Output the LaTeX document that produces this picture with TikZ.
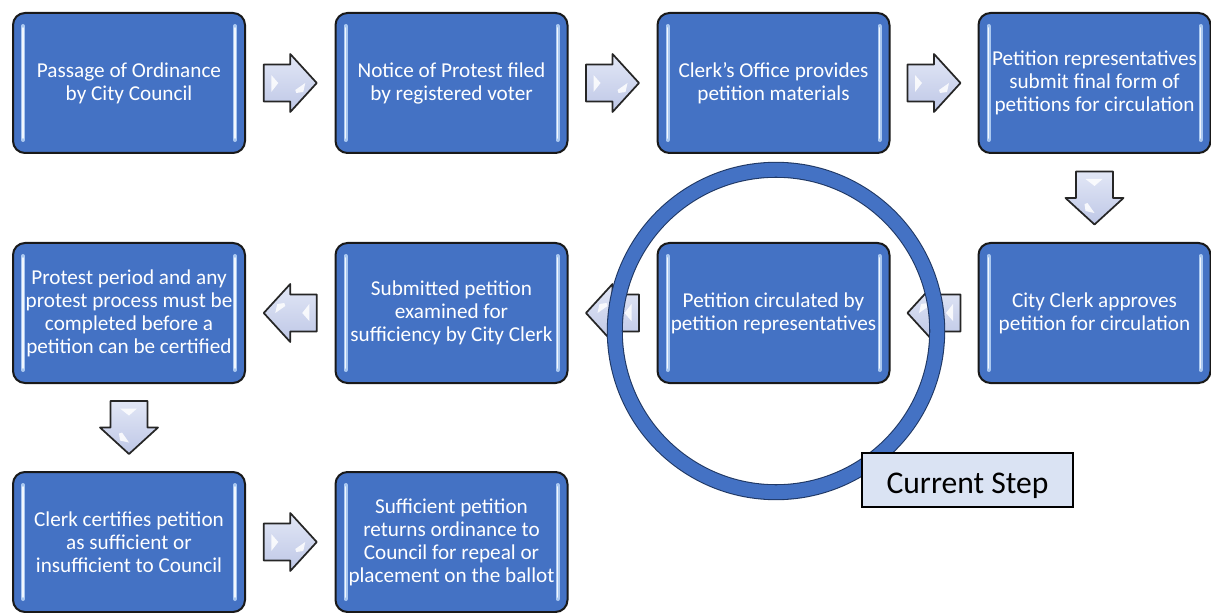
\documentclass[tikz,border=0pt]{standalone}
\usepackage{fontspec}
\setmainfont{Carlito}
\usetikzlibrary{calc}
\definecolor{boxblue}{RGB}{68,114,196}
\definecolor{barblue}{RGB}{170,200,240}
\definecolor{arrowfill}{RGB}{190,199,230}
\definecolor{arrowlight}{RGB}{226,231,246}
\definecolor{labelfill}{RGB}{218,227,243}
\definecolor{ringedge}{RGB}{32,56,100}
\tikzset{
  stepbox/.style={draw=black!90, line width=1.5pt, fill=boxblue, rounded corners=9pt,
    minimum width=174pt, minimum height=105pt, inner sep=0pt, align=center,
    text=white, font=\fontsize{15.9}{17.25}\selectfont},
  hibar/.style={draw=barblue, line width=3pt, line cap=round},
  hicore/.style={draw=white!85!barblue, line width=1.2pt, line cap=round},
  blockarrow/.pic={
    \path[draw=black!85, line width=1.3pt, line join=round, top color=arrowlight, bottom color=arrowfill]
      (-26.5,-18.5) -- (0,-18.5) -- (0,-29) -- (26.5,0) -- (0,29) -- (0,18.5) -- (-26.5,18.5) -- cycle;
    \fill[white, opacity=.85] (-19,-8) -- (-12,0) -- (-19,9) -- cycle;
    \fill[white, opacity=.85] (5,7) -- (15,0) -- (13,9) -- (6,10) -- cycle;
  },
}
\newcommand{\bars}[1]{%
  \draw[hibar] ($(#1.north west)+(11,14)$) -- ($(#1.south west)+(11,-14)$);
  \draw[hicore] ($(#1.north west)+(11,16)$) -- ($(#1.south west)+(11,-16)$);
  \draw[hibar] ($(#1.north east)+(-11,14)$) -- ($(#1.south east)+(-11,-14)$);
  \draw[hicore] ($(#1.north east)+(-11,16)$) -- ($(#1.south east)+(-11,-16)$);}
\begin{document}
\begin{tikzpicture}[x=0.75pt,y=-0.75pt]
\useasboundingbox (0,0) rectangle (1211,613);
% row 1
\node[stepbox] (b1) at (129,83) {Passage of Ordinance\\by City Council};
\node[stepbox] (b2) at (451.5,83) {Notice of Protest filed\\by registered voter};
\node[stepbox] (b3) at (773.5,83) {Clerk’s Office provides\\petition materials};
\node[stepbox] (b4) at (1094.5,83) {Petition representatives\\submit final form of\\petitions for circulation};
% row 2
\node[stepbox] (b5) at (1094.5,313) {City Clerk approves\\petition for circulation};
\node[stepbox] (b6) at (773.5,313) {Petition circulated by\\petition representatives};
\node[stepbox] (b7) at (451.5,313) {Submitted petition\\examined for\\sufficiency by City Clerk};
\node[stepbox] (b8) at (129,313) {Protest period and any\\protest process must be\\completed before a\\petition can be certified};
% row 3
\node[stepbox] (b9) at (129,542) {Clerk certifies petition\\as sufficient or\\insufficient to Council};
\node[stepbox] (b10) at (451.5,542) {Sufficient petition\\returns ordinance to\\Council for repeal or\\placement on the ballot};
\foreach \n in {b1,b2,b3,b4,b5,b6,b7,b8,b9,b10} {\bars{\n}}
% block arrows
\pic at ($(b1.east)!0.5!(b2.west)$) {blockarrow};
\pic at ($(b2.east)!0.5!(b3.west)$) {blockarrow};
\pic at ($(b3.east)!0.5!(b4.west)$) {blockarrow};
\pic[rotate=-90] at ($(b4.south)!0.5!(b5.north)$) {blockarrow};
\pic[rotate=180] at ($(b5.west)!0.5!(b6.east)$) {blockarrow};
\pic[rotate=180] at ($(b6.west)!0.5!(b7.east)$) {blockarrow};
\pic[rotate=180] at ($(b7.west)!0.5!(b8.east)$) {blockarrow};
\pic[rotate=-90] at ($(b8.south)!0.5!(b9.north)$) {blockarrow};
\pic at ($(b9.east)!0.5!(b10.west)$) {blockarrow};
% highlight ring
\coordinate (ring) at (776,331);
\draw[ringedge, line width=12pt] (ring) circle[radius=120.9pt];
\draw[boxblue, line width=10.4pt] (ring) circle[radius=120.9pt];
% label
\node[draw=black, line width=1.3pt, fill=labelfill, minimum width=158.25pt, minimum height=40.5pt,
  inner sep=0pt, text height=20pt, text depth=0pt, font=\fontsize{23.7}{28}\selectfont] (cur) at (967.5,480) {Current Step};
\end{tikzpicture}
\end{document}
